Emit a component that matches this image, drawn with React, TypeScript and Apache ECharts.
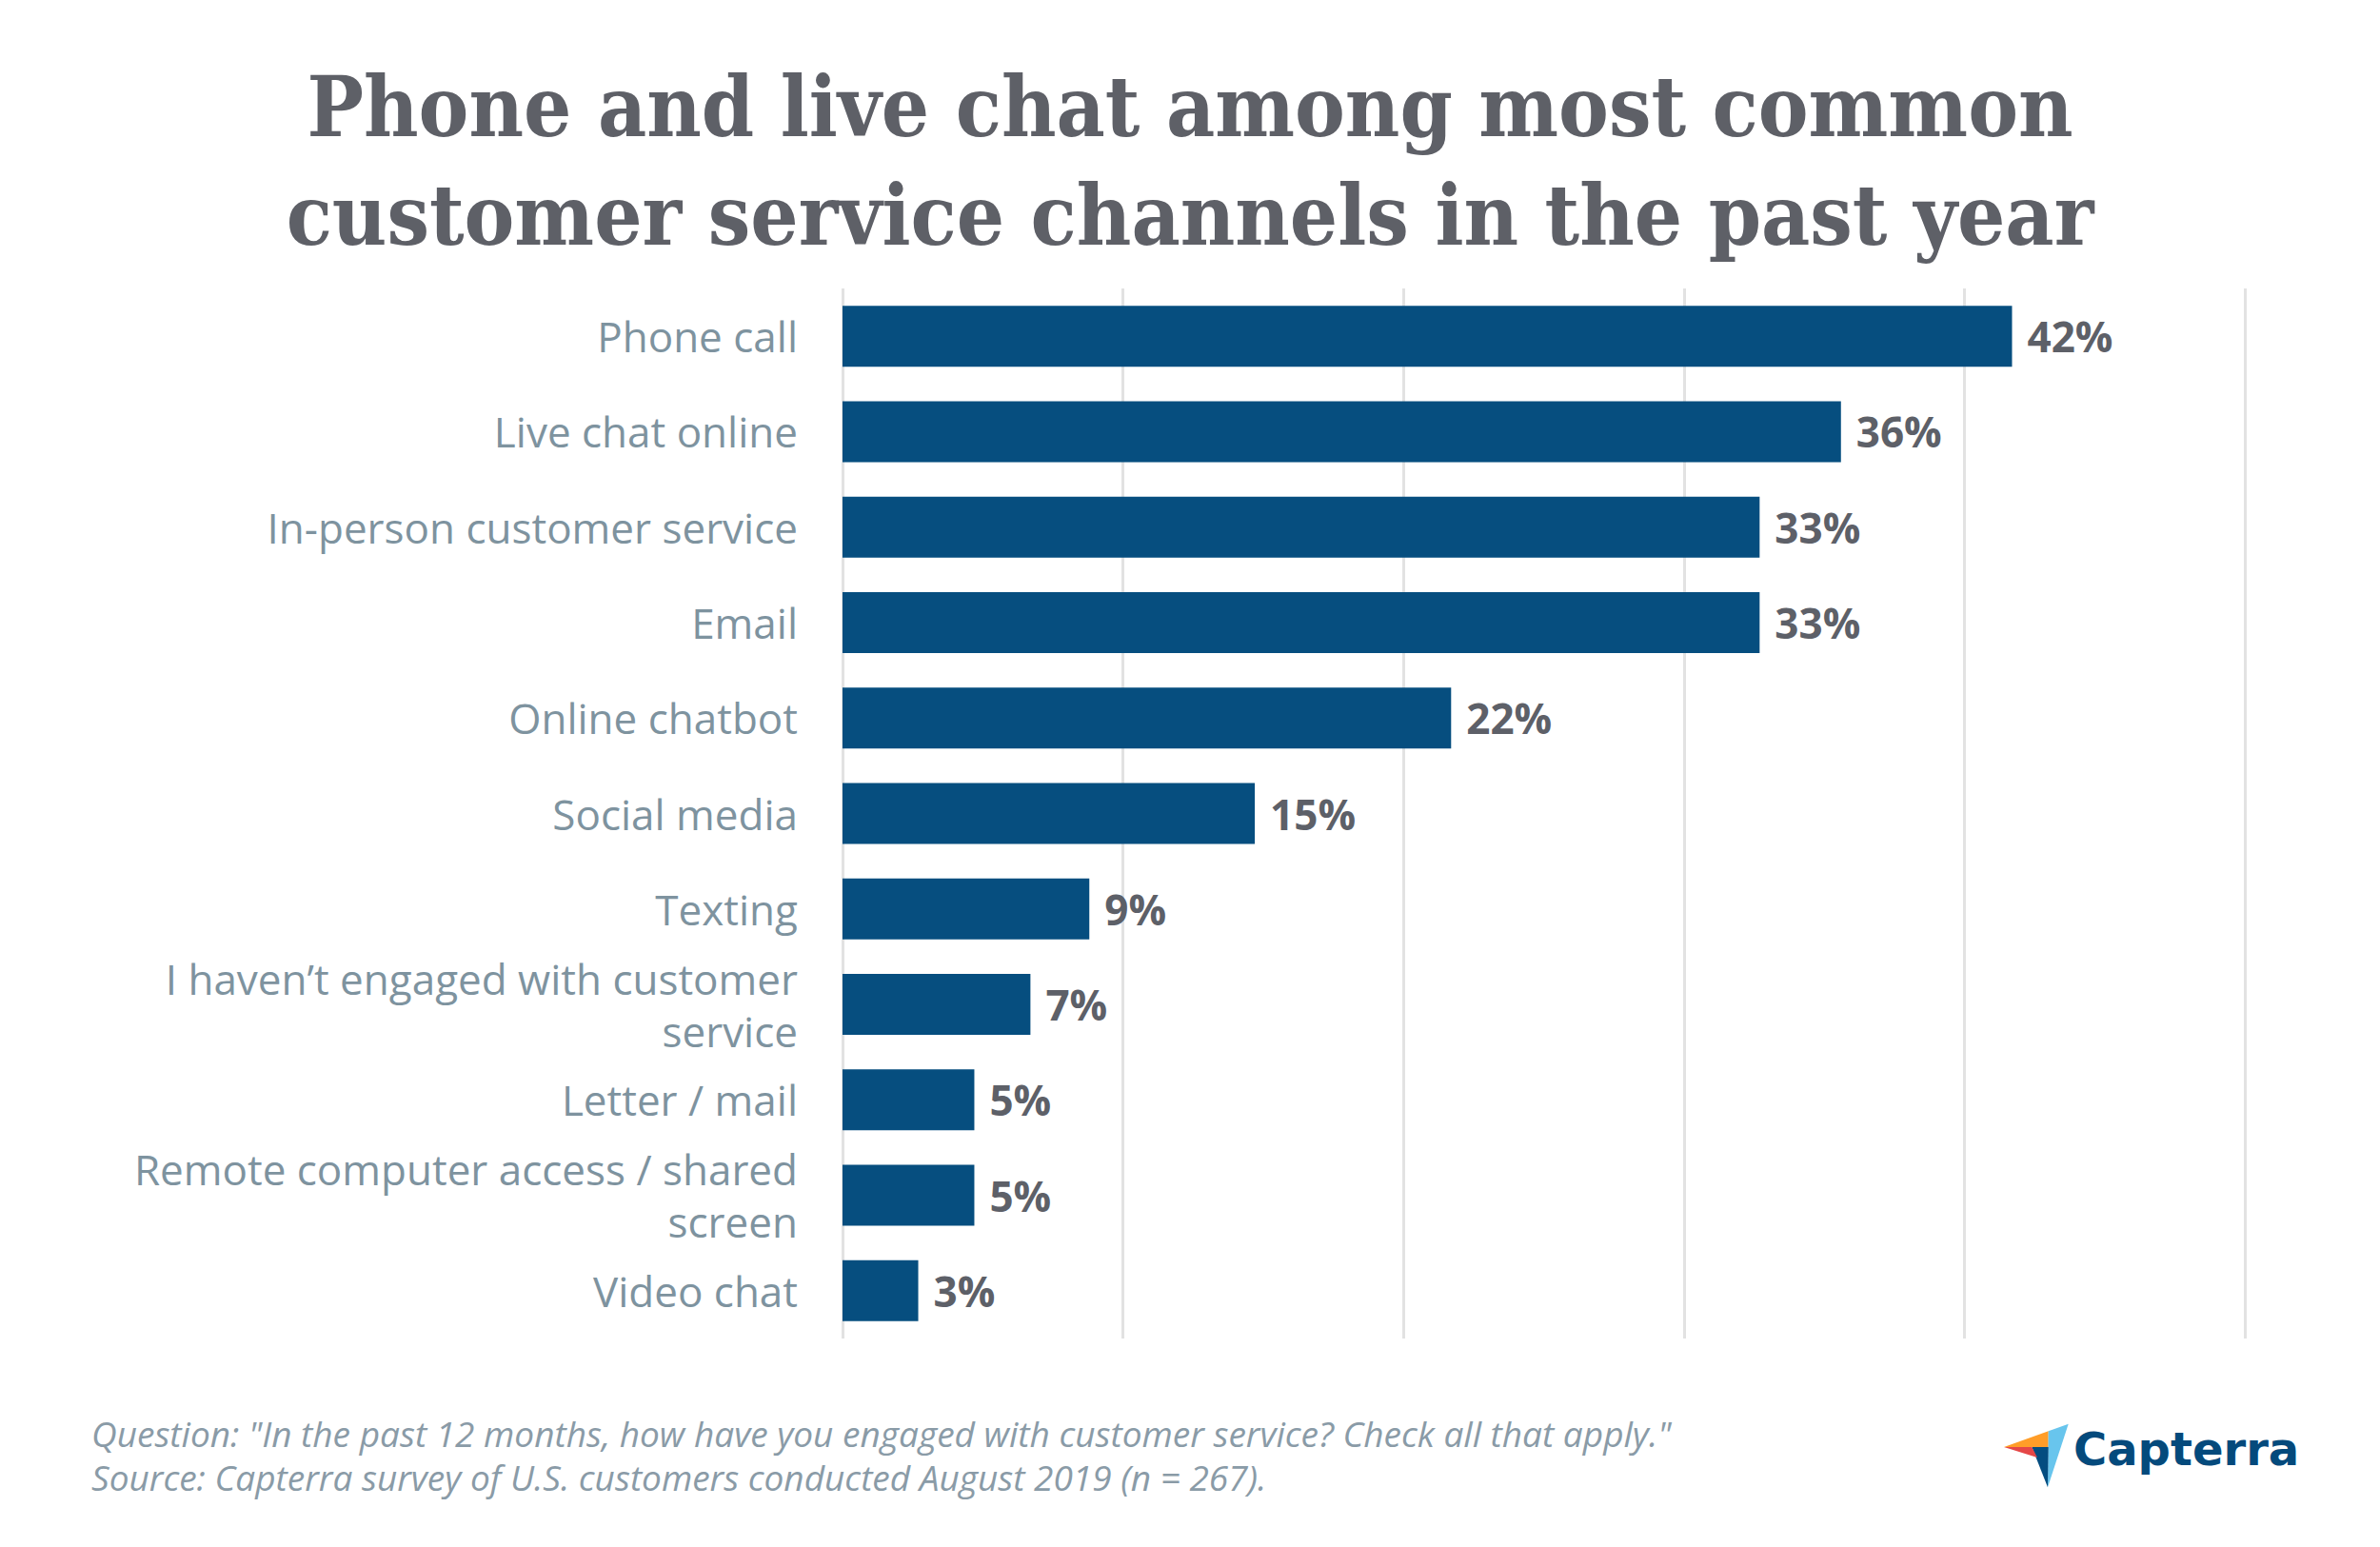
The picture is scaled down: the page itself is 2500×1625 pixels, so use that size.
import React, { useEffect, useRef } from "react";
import * as echarts from "echarts";

const categories = [
  "Phone call",
  "Live chat online",
  "In-person customer service",
  "Email",
  "Online chatbot",
  "Social media",
  "Texting",
  "I haven’t engaged with customer\nservice",
  "Letter / mail",
  "Remote computer access / shared\nscreen",
  "Video chat",
];
const values = [41.7, 35.6, 32.7, 32.7, 21.7, 14.7, 8.8, 6.7, 4.7, 4.7, 2.7];
const valueLabels = ["42%", "36%", "33%", "33%", "22%", "15%", "9%", "7%", "5%", "5%", "3%"];

const titleLines = [
  "Phone and live chat among most common",
  "customer service channels in the past year",
];
const footerLines = [
  'Question: "In the past 12 months, how have you engaged with customer service? Check all that apply."',
  "Source: Capterra survey of U.S. customers conducted August 2019 (n = 267).",
];

export default function App() {
  const ref = useRef<HTMLDivElement>(null);
  useEffect(() => {
    if (!ref.current) return;
    const chart = echarts.init(ref.current, undefined, { renderer: "svg" });
    const footerStyle = {
      fontFamily: "Open Sans",
      fontStyle: "italic",
      fontSize: 37,
      lineHeight: 44,
      fill: "#8a9ba7",
    };
    chart.setOption({
      animation: false,
      backgroundColor: "#ffffff",
      title: {
        text: titleLines.join("\n"),
        left: "center",
        top: 50,
        textStyle: {
          fontFamily: "DejaVu Serif Condensed, DejaVu Serif, serif",
          fontWeight: "bold",
          fontSize: 88,
          lineHeight: 114,
          color: "#5e6067",
        },
      },
      grid: { left: 885, right: 142, top: 303, bottom: 219, containLabel: false },
      xAxis: {
        type: "value",
        min: 0,
        max: 50,
        interval: 10,
        axisLine: { show: false },
        axisTick: { show: false },
        axisLabel: { show: false },
        splitLine: { show: true, lineStyle: { color: "#e2e2e2", width: 3 } },
      },
      yAxis: {
        type: "category",
        inverse: true,
        data: categories,
        axisLine: { show: false },
        axisTick: { show: false },
        axisLabel: {
          margin: 47,
          fontFamily: "Open Sans",
          fontSize: 44,
          lineHeight: 55,
          color: "#7e939f",
          align: "right",
        },
      },
      series: [
        {
          type: "bar",
          data: values,
          barWidth: 64,
          itemStyle: { color: "#064e7f" },
          label: {
            show: true,
            position: "right",
            distance: 16,
            fontFamily: "Open Sans",
            fontWeight: "bold",
            fontSize: 44,
            color: "#5d6068",
            formatter: (p: any) => valueLabels[p.dataIndex],
          },
        },
      ],
      graphic: [
        {
          type: "text",
          left: 96,
          top: 1483,
          style: { text: footerLines[0], ...footerStyle },
        },
        {
          type: "text",
          left: 96,
          top: 1529,
          style: { text: footerLines[1], ...footerStyle },
        },
        {
          type: "polygon",
          shape: { points: [[2105, 1520], [2151.7, 1503.3], [2151.7, 1520]] },
          style: { fill: "#ff9d28" },
        },
        {
          type: "polygon",
          shape: { points: [[2151.7, 1503.3], [2172.7, 1495.7], [2151, 1562.3]] },
          style: { fill: "#68c5ed" },
        },
        {
          type: "polygon",
          shape: { points: [[2134.3, 1520], [2151.7, 1520], [2151, 1562.3]] },
          style: { fill: "#044d80" },
        },
        {
          type: "polygon",
          shape: { points: [[2105, 1520], [2134.3, 1520], [2140, 1531]] },
          style: { fill: "#e54747" },
        },
        {
          type: "text",
          left: 2178,
          top: 1498,
          style: {
            text: "Capterra",
            fontFamily: "DejaVu Sans",
            fontWeight: "bold",
            fontSize: 48,
            fill: "#044a7c",
          },
        },
      ],
    });
    return () => chart.dispose();
  }, []);
  return (
    <div
      ref={ref}
      style={{ position: "fixed", left: 0, top: 0, width: 2500, height: 1625 }}
    />
  );
}
